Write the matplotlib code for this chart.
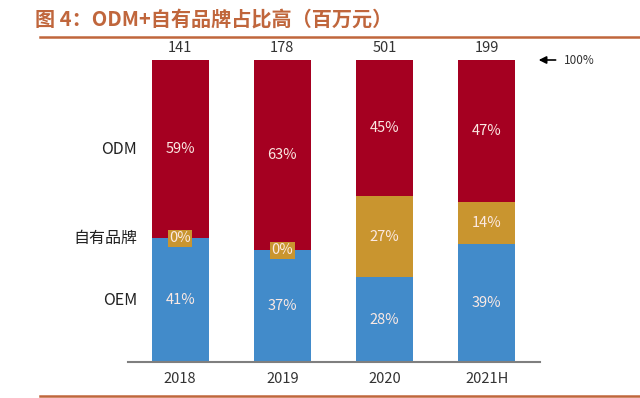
import matplotlib.pyplot as plt
import matplotlib as mpl
from matplotlib.lines import Line2D

plt.rcParams['font.family'] = ['Noto Sans CJK SC', 'DejaVu Sans']

years = ['2018', '2019', '2020', '2021H']
totals = [141, 178, 501, 199]
oem = [41, 37, 28, 39]
own_brand = [0, 0, 27, 14]
odm = [59, 63, 45, 47]
series_names = ['OEM', '自有品牌', 'ODM']

c_oem = '#428BCA'
c_own = '#C9952F'
c_odm = '#A50021'
c_title = '#C0663C'
c_label = '#FBE9E3'

fig = plt.figure(figsize=(6.4, 3.98), dpi=100)
ax = fig.add_axes([128 / 640, 1 - 362 / 398, 412 / 640, 302 / 398])

x = list(range(len(years)))
width = 0.556
bottom_own = oem
bottom_odm = [a + b for a, b in zip(oem, own_brand)]

ax.bar(x, oem, width, color=c_oem)
ax.bar(x, own_brand, width, bottom=bottom_own, color=c_own)
ax.bar(x, odm, width, bottom=bottom_odm, color=c_odm)

# segment labels
for i in x:
    ax.text(i, oem[i] / 2, '{}%'.format(oem[i]), ha='center', va='center',
            color=c_label, fontsize=10.5)
    ax.text(i, bottom_odm[i] + odm[i] / 2, '{}%'.format(odm[i]),
            ha='center', va='center', color=c_label, fontsize=10.5)
    if own_brand[i] == 0:
        ax.text(i, bottom_own[i], '{}%'.format(own_brand[i]), ha='center',
                va='center', color=c_label, fontsize=10.5,
                bbox=dict(boxstyle='square,pad=0.1', fc=c_own, ec='none'))
    else:
        ax.text(i, bottom_own[i] + own_brand[i] / 2,
                '{}%'.format(own_brand[i]), ha='center', va='center',
                color=c_label, fontsize=10.5)
    ax.text(i, 101.5, str(totals[i]), ha='center', va='bottom',
            color='#333333', fontsize=10.5)

# series names on the left, next to the first bar
name_y = [oem[0] / 2, bottom_own[0], bottom_odm[0] + odm[0] / 2]
for name, yv in zip(series_names, name_y):
    ax.text(-0.42, yv, name, ha='right', va='center', color='#222222',
            fontsize=11.5)

# 100% marker
ax.annotate('', xy=(3.48, 100), xytext=(3.70, 100),
            arrowprops=dict(arrowstyle='-|>', color='black', lw=1.2,
                            mutation_scale=11),
            annotation_clip=False)
ax.text(3.75, 100, '100%', ha='left', va='center', color='#333333',
        fontsize=8.5)

ax.set_xlim(-0.51, 3.52)
ax.set_ylim(0, 100)
ax.set_xticks(x)
ax.set_xticklabels(years, fontsize=10.5, color='#333333')
ax.tick_params(axis='x', length=0, pad=7)
ax.set_yticks([])
for side in ['top', 'right', 'left']:
    ax.spines[side].set_visible(False)
ax.spines['bottom'].set_color('#7F7F7F')
ax.spines['bottom'].set_linewidth(1.5)

fig.text(35 / 640, 1 - 19 / 398, '图 4：ODM+自有品牌占比高（百万元）',
         ha='left', va='center', fontsize=14.5, fontweight='bold',
         color=c_title)
fig.add_artist(Line2D([40 / 640, 1], [1 - 37 / 398, 1 - 37 / 398],
                      color=c_title, lw=1.8))
fig.add_artist(Line2D([40 / 640, 1], [1 - 396 / 398, 1 - 396 / 398],
                      color=c_title, lw=1.8))

fig.savefig('out.png', dpi=100)
